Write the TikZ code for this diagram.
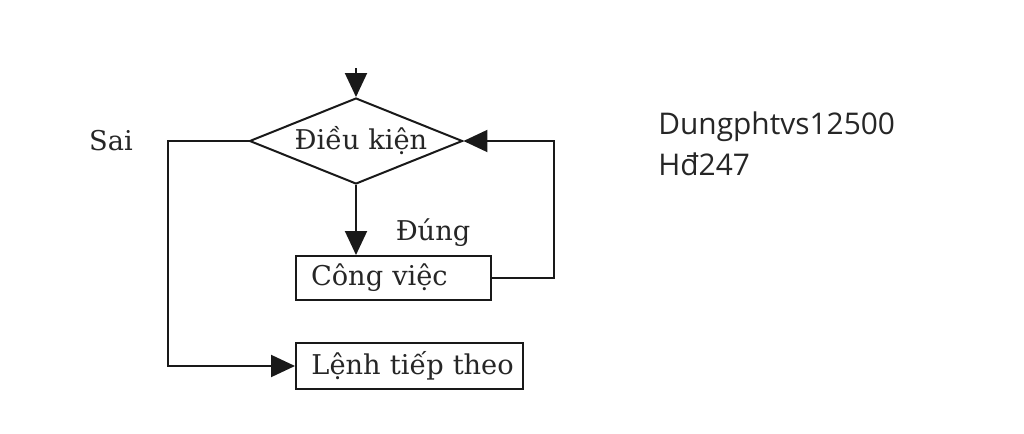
\documentclass[tikz,border=0pt]{standalone}
\usepackage{fontspec}
\setmainfont{DejaVu Serif}
\newfontfamily\notefont{Open Sans}
\usetikzlibrary{shapes.geometric, arrows.meta}
\tikzset{
flowline/.style={line width=0.04cm, color=black!90},
flowarrow/.style={flowline, -{Triangle[length=0.48cm,width=0.44cm]}},
flowtext/.style={font=\fontsize{15.5}{18}\selectfont, text=black!85},
flowbox/.style={draw=black!90, line width=0.04cm, flowtext, inner sep=0pt, anchor=north west, align=left},
}

\begin{document}
\begin{tikzpicture}[x=0.02cm,y=-0.02cm]
\useasboundingbox (0,0) rectangle (1024,433);

\node [draw=black!90, line width=0.04cm, flowtext, shape=diamond, aspect=2.48, inner sep=0pt, minimum width=4.26cm, minimum height=1.72cm] (dieukien) at (356,141) {\hspace*{0.2cm}Điều kiện};
\node [flowbox, minimum width=3.9cm, minimum height=0.88cm, text width=3.3cm, inner xsep=0.3cm] (congviec) at (295,255) {Công việc};
\node [flowbox, minimum width=4.54cm, minimum height=0.92cm, text width=4.2cm, inner xsep=0.17cm] (lenh) at (295,342) {\hspace*{0.14cm}Lệnh tiếp theo};
\coordinate (vao) at (dieukien.north |- 0,68);
\coordinate (retrai) at (168,142);
\coordinate (rephai) at (554,276);

\draw[flowarrow] (vao) -- (dieukien.north);
\draw[flowarrow] (dieukien.south) -- (dieukien.south |- congviec.north);
\draw[flowarrow] (congviec.east) -- (rephai |- congviec.east) -- (rephai |- dieukien.east) -- (dieukien.east);
\draw[flowarrow] (dieukien.west) -- (retrai |- dieukien.west) -- (retrai |- lenh.west) -- (lenh.west);

\node [flowtext] (sai) at (111,141) {Sai};
\node [flowtext] (dung) at (433,233) {Đúng};
\node [anchor=north west, inner sep=0pt, align=left, font=\notefont\fontsize{17}{23.8}\selectfont, text=black!85] (ghichu) at (658,111) {Dungphtvs12500\\Hđ247};

\end{tikzpicture}
\end{document}
